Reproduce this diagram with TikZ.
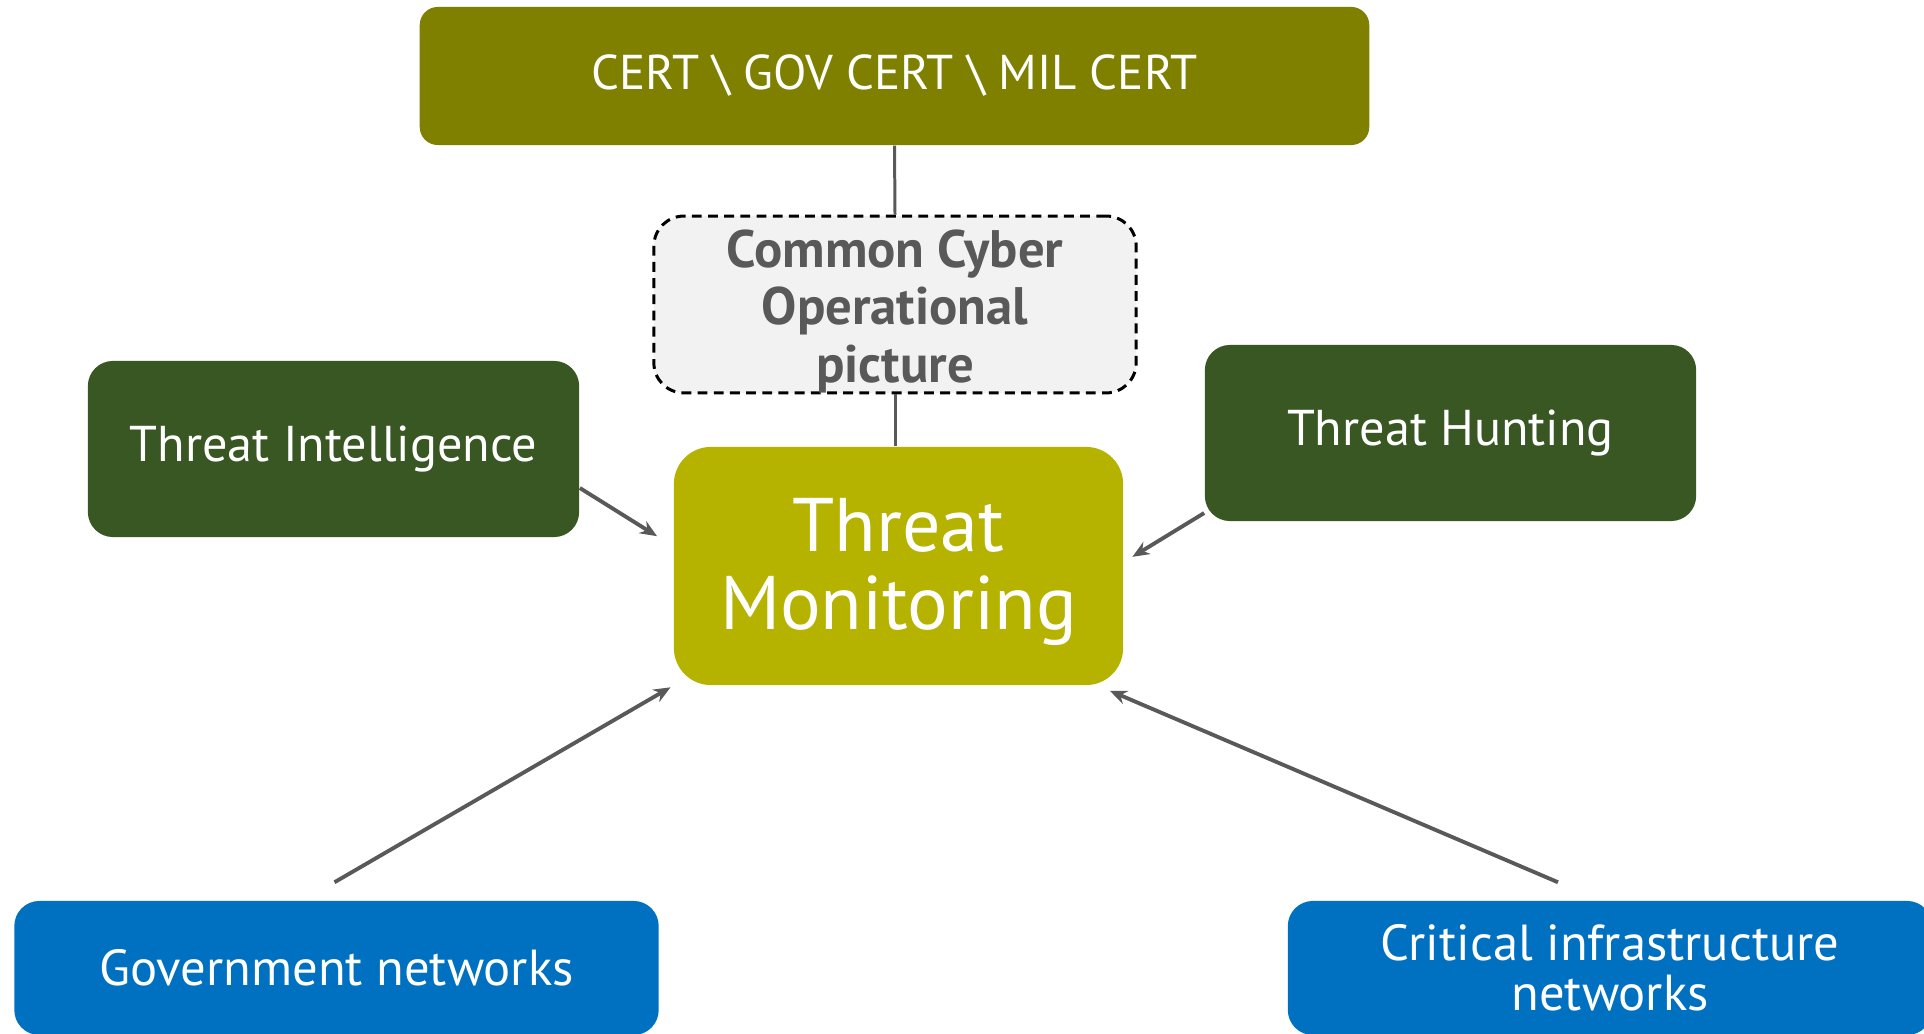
\documentclass[tikz,border=0pt]{standalone}
\usepackage{fontspec}
\setmainfont{PT Sans}
\usetikzlibrary{arrows.meta, calc}
\definecolor{certolive}{HTML}{808000}
\definecolor{hubyellow}{HTML}{B5B200}
\definecolor{feedgreen}{HTML}{385723}
\definecolor{netblue}{HTML}{0070C0}
\definecolor{copgrey}{HTML}{F2F2F2}
\definecolor{linegrey}{HTML}{595959}

\begin{document}
\begin{tikzpicture}[
                    % one unit = one pixel of the 1924 x 1034 frame, y runs down
                    x=0.01cm, y=-0.01cm,
                    every node/.style={text=white, align=center, inner sep=0pt},
                    % --- box styles ---
                    cert box/.style={fill=certolive, rounded corners=0.18cm,
                                     minimum width=9.49cm, minimum height=1.38cm, font=\fontsize{13.9}{18}\selectfont},
                    cop box/.style={fill=copgrey, draw=black, line width=0.85pt, dash pattern=on 2.8pt off 1.8pt,
                                    rounded corners=0.3cm, minimum width=4.82cm, minimum height=1.73cm,
                                    text=linegrey, font=\fontsize{15}{16.4}\selectfont\bfseries},
                    hub box/.style={fill=hubyellow, rounded corners=0.37cm,
                                    minimum width=4.49cm, minimum height=2.38cm, font=\fontsize{21.6}{22}\selectfont},
                    feed box/.style={fill=feedgreen, rounded corners=0.25cm,
                                     minimum width=4.91cm, minimum height=1.76cm, font=\fontsize{14.3}{18}\selectfont},
                    net box/.style={fill=netblue, rounded corners=0.25cm,
                                    minimum width=6.44cm, minimum height=1.34cm, font=\fontsize{14.4}{14.3}\selectfont},
                    % --- connector styles ---
                    link/.style={draw=linegrey, line width=0.85pt},
                    feed arrow/.style={draw=linegrey, line width=1.1pt, -{Stealth[length=0.17cm, width=0.14cm]}}
                  ]
  \useasboundingbox (0,0) rectangle (1924,1034);
  \clip (0,0) rectangle (1924,1034);

  % --- top and centre column ---
  \node[cert box] (cert) at (894.5,76) {CERT \textbackslash{} GOV CERT \textbackslash{} MIL CERT};
  \node[cop box]  (cop)  at (895,304.5) {\rule{0pt}{14.5pt}Common Cyber\\Operational\\picture};
  \node[hub box]  (tm)   at (898.5,566) {\rule{0pt}{18.5pt}Threat\\Monitoring};

  % --- sources at the sides ---
  \node[feed box] (ti) at (333.5,449) {Threat Intelligence};
  \node[feed box] (th) at (1450.5,433) {Threat Hunting};

  % --- networks, cut off by the frame ---
  \node[net box] (gov)  at (336.5,968) {Government networks};
  \node[net box] (crit) at (1610,968) {Critical infrastructure\\networks};
  \coordinate (gov-out)  at ($(gov.north)+(-2,-18)$);
  \coordinate (crit-out) at ($(crit.north)+(-52,-18)$);

  % --- connectors ---
  \draw[link] (cert.south) -- (cop.north);
  \draw[link] (cop.south) -- (cop.south |- tm.north);

  \draw[feed arrow, shorten >=0.19cm] (ti.-9.7) -- (tm.175.7);
  \draw[feed arrow, shorten >=0.1cm]  (th.198) -- (tm.1.3);
  \draw[feed arrow, shorten >=0.03cm] (gov-out) -- (tm.south west);
  \draw[feed arrow] (crit-out) -- ($(tm.south east)+(-14,5)$);

\end{tikzpicture}
\end{document}
